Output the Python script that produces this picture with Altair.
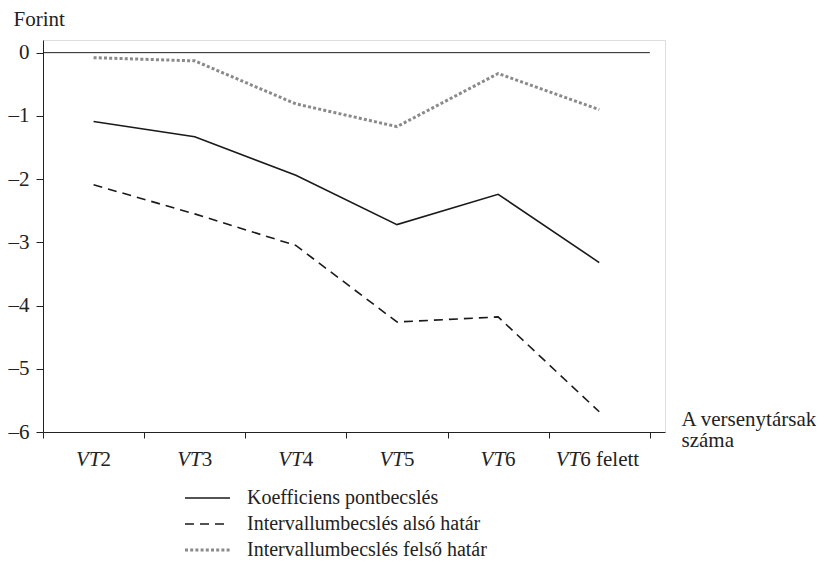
import altair as alt
import pandas as pd

categories = ["VT2", "VT3", "VT4", "VT5", "VT6", "VT6 felett"]
point_est = [-1.09, -1.33, -1.94, -2.72, -2.24, -3.32]
lower_bound = [-2.09, -2.55, -3.05, -4.26, -4.18, -5.68]
upper_bound = [-0.08, -0.13, -0.81, -1.17, -0.33, -0.90]
series_names = [
    "Koefficiens pontbecslés",
    "Intervallumbecslés alsó határ",
    "Intervallumbecslés felső határ",
]
y_ticks = [-6, -5, -4, -3, -2, -1, 0]

FONT = "Liberation Serif"
FS = 21
LFS = 20
W, H = 622, 392

rows = []
for name, vals in zip(series_names, [point_est, lower_bound, upper_bound]):
    for i, (c, v) in enumerate(zip(categories, vals)):
        rows.append({"category": c, "pos": i + 0.5, "value": v, "series": name})
df = pd.DataFrame(rows)

lab = pd.DataFrame({
    "pos": [i + 0.5 for i in range(len(categories))],
    "idx": list(range(len(categories))),
    "prefix": [c[:2] for c in categories],
    "suffix": [c[2:] for c in categories],
})

x_enc = alt.X(
    "pos:Q",
    scale=alt.Scale(domain=[0, 6.15], nice=False, zero=False),
    axis=alt.Axis(
        values=list(range(len(categories) + 1)),
        labels=False, grid=False, tickSize=6, tickColor="#222", domainColor="#222",
        title=["A versenytársak", "száma"], titleX=638, titleY=-7,
        titleAlign="left", titleBaseline="alphabetic", titleFont=FONT,
        titleFontSize=FS, titleFontWeight="normal", titleColor="#222",
        titleLineHeight=21,
    ),
)
y_enc = alt.Y(
    "value:Q",
    scale=alt.Scale(domain=[-6, 0.2], nice=False, zero=False),
    axis=alt.Axis(
        values=y_ticks, grid=False, tickSize=7, labelPadding=7,
        tickColor="#222", domainColor="#222",
        labelExpr="datum.value < 0 ? '–' + abs(datum.value) : '' + datum.value",
        labelFont=FONT, labelFontSize=FS, labelColor="#222",
        title="Forint", titleAngle=0, titleX=-30, titleY=-15,
        titleAlign="left", titleBaseline="alphabetic", titleFont=FONT,
        titleFontSize=FS, titleFontWeight="normal", titleColor="#222",
    ),
)

base = alt.Chart(df)
styles = {
    series_names[0]: dict(color="#1a1a1a", strokeWidth=1.6),
    series_names[1]: dict(color="#1a1a1a", strokeWidth=1.6, strokeDash=[9, 6]),
    series_names[2]: dict(color="#8a8a8a", strokeWidth=3, strokeDash=[3, 2.2]),
}
line_layers = []
for name in series_names:
    line_layers.append(
        base.transform_filter(alt.datum.series == name)
        .mark_line(**styles[name])
        .encode(x=x_enc, y=y_enc)
    )

zero_rule = alt.Chart(pd.DataFrame({"a": [0]})).mark_rule(color="#222", strokeWidth=1).encode(
    y=alt.datum(0), x=alt.datum(0), x2=alt.datum(len(categories))
)

lab_base = alt.Chart(lab)
label_layers = []
for filt, dx in [(alt.datum.idx < 5, 7), (alt.datum.idx >= 5, -19)]:
    label_layers.append(
        lab_base.transform_filter(filt).mark_text(
            font=FONT, fontSize=FS, fontStyle="italic", align="right",
            baseline="alphabetic", dx=dx, dy=34, color="#222"
        ).encode(x=alt.X("pos:Q"), y=alt.datum(-6), text="prefix:N")
    )
    label_layers.append(
        lab_base.transform_filter(filt).mark_text(
            font=FONT, fontSize=FS, align="left",
            baseline="alphabetic", dx=dx, dy=34, color="#222"
        ).encode(x=alt.X("pos:Q"), y=alt.datum(-6), text="suffix:N")
    )

legend_layers = []
leg_y0, leg_step = 458, 26
for k, name in enumerate(series_names):
    yy = leg_y0 + k * leg_step
    legend_layers.append(
        alt.Chart(pd.DataFrame({"s": [name]})).mark_rule(**styles[name]).encode(
            x=alt.value(142), x2=alt.value(187), y=alt.value(yy)
        )
    )
    legend_layers.append(
        alt.Chart(pd.DataFrame({"s": [name]})).mark_text(
            font=FONT, fontSize=LFS, align="left", baseline="middle", color="#222"
        ).encode(x=alt.value(204), y=alt.value(yy), text="s:N")
    )

chart = alt.layer(
    zero_rule, *line_layers, *label_layers, *legend_layers
).properties(
    width=W, height=H,
    autosize=alt.AutoSizeParams(type="none"),
    padding={"left": 35, "top": 32, "right": 151, "bottom": 133},
).configure_view(stroke=None).configure(background="white")

chart.save("out.html", embed_options={"renderer": "svg", "actions": False})
